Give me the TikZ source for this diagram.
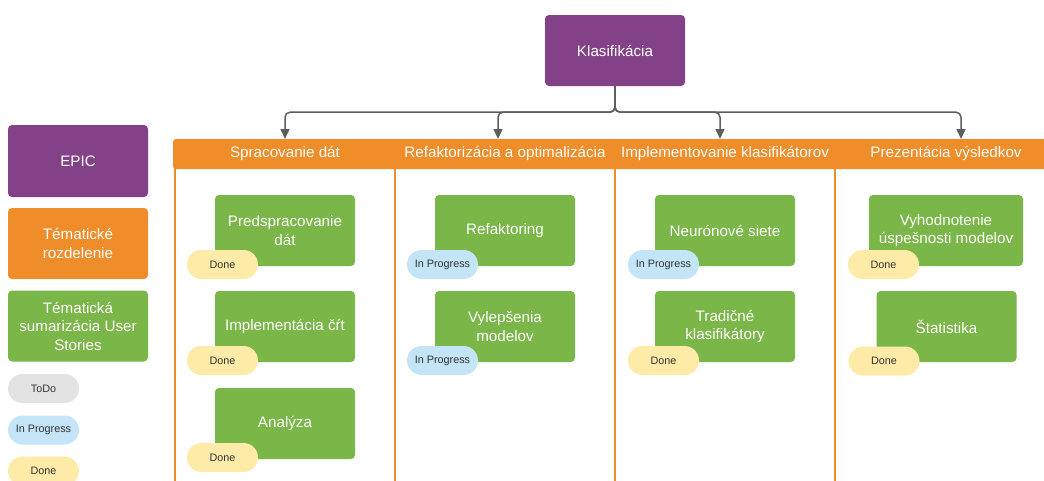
\documentclass[tikz,border=0pt]{standalone}
\usepackage{fontspec}
\setmainfont{Liberation Sans}
\usetikzlibrary{arrows.meta}
\definecolor{epic}{HTML}{834187}
\definecolor{theme}{HTML}{EF8D2A}
\definecolor{story}{HTML}{7AB648}
\definecolor{todo}{HTML}{E3E3E3}
\definecolor{inprog}{HTML}{C4E5F7}
\definecolor{done}{HTML}{FFEBA8}
\definecolor{conncol}{HTML}{5E5E5E}
\definecolor{badgetext}{HTML}{333333}
\tikzset{
  box/.style={rectangle, rounded corners=4pt, inner sep=0pt, text=white,
    font=\fontsize{15.2}{18.5}\selectfont, align=center},
  epicbox/.style={box, fill=epic},
  themebox/.style={box, fill=theme},
  storybox/.style={box, fill=story, minimum width=140pt, minimum height=71pt},
  badge/.style={rectangle, rounded corners=14.5pt, inner sep=0pt,
    minimum width=71pt, minimum height=29pt, text=badgetext,
    font=\fontsize{10.8}{13}\selectfont},
  donebadge/.style={badge, fill=done},
  progbadge/.style={badge, fill=inprog},
  todobadge/.style={badge, fill=todo},
  lanetitle/.style={text=white, font=\fontsize{15.2}{18}\selectfont, inner sep=0pt},
  lane/.style={draw=theme, line width=2pt},
  conn/.style={draw=conncol, line width=1.5pt, rounded corners=5pt,
    -{Triangle[width=9pt,length=10pt]}},
}
\begin{document}
\begin{tikzpicture}[x=1pt,y=-1pt]
\useasboundingbox (0,0) rectangle (1044,480);

% legend
\node[epicbox, minimum width=140pt, minimum height=72pt] (lgEpic) at (78,161) {EPIC};
\node[themebox, minimum width=140pt, minimum height=71pt] (lgTheme) at (78,243.5) {Tématické\\rozdelenie};
\node[storybox] (lgStory) at (78,326) {Tématická\\sumarizácia User\\Stories};
\node[todobadge] (lgTodo) at (43.5,388.5) {ToDo};
\node[progbadge] (lgProg) at (43.5,430) {In Progress};
\node[donebadge] (lgDone) at (43.5,471) {Done};

% epic
\node[epicbox, minimum width=140pt, minimum height=71pt] (klas) at (615,50.5) {Klasifikácia};

% swimlanes
\fill[theme, rounded corners=3pt] (173,139) rectangle (1060,169);
\foreach \lx in {175,395,615,835}
  \draw[lane] (\lx,168) -- (\lx,490);
\node[lanetitle] (h1) at (285,153) {Spracovanie dát};
\node[lanetitle] (h2) at (505,153) {Refaktorizácia a optimalizácia};
\node[lanetitle] (h3) at (725,153) {Implementovanie klasifikátorov};
\node[lanetitle] (h4) at (946,153) {Prezentácia výsledkov};

\coordinate (t1) at (285,139);
\coordinate (t2) at (498,139);
\coordinate (t3) at (720,139);
\coordinate (t4) at (961,139);
\foreach \t in {t1,t2,t3,t4}
  \draw[conn] (klas.south) -- ++(0,26) -| (\t);

% lane 1
\node[storybox] (s11) at (285,230.5) {Predspracovanie\\dát};
\node[donebadge] (b11) at (222.5,264.5) {Done};
\node[storybox] (s12) at (285,326.5) {Implementácia čŕt};
\node[donebadge] (b12) at (222.5,360.5) {Done};
\node[storybox] (s13) at (285,423.5) {Analýza};
\node[donebadge] (b13) at (222.5,457.5) {Done};

% lane 2
\node[storybox] (s21) at (505,230.5) {Refaktoring};
\node[progbadge] (b21) at (442.5,264.5) {In Progress};
\node[storybox] (s22) at (505,326.5) {Vylepšenia\\modelov};
\node[progbadge] (b22) at (442.5,360.5) {In Progress};

% lane 3
\node[storybox] (s31) at (725,230.5) {Neurónové siete};
\node[progbadge] (b31) at (663.5,264.5) {In Progress};
\node[storybox] (s32) at (725,326.5) {Tradičné\\klasifikátory};
\node[donebadge] (b32) at (663.5,360.5) {Done};

% lane 4
\node[storybox, minimum width=154pt] (s41) at (946,230.5) {Vyhodnotenie\\úspešnosti modelov};
\node[donebadge] (b41) at (883.5,264.5) {Done};
\node[storybox] (s42) at (946.5,326.5) {Štatistika};
\node[donebadge] (b42) at (884,361) {Done};
\end{tikzpicture}
\end{document}
